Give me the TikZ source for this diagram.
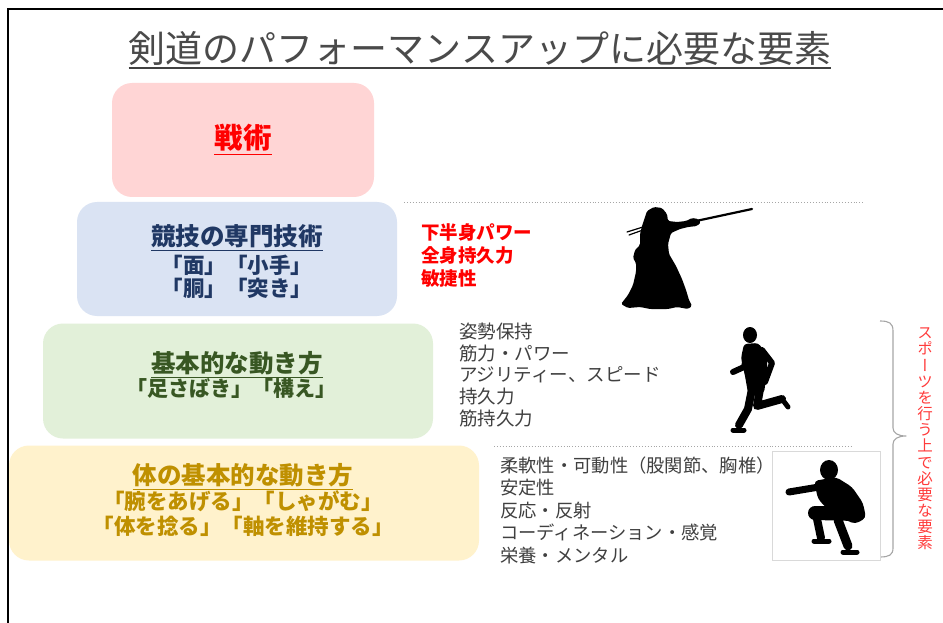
\documentclass[tikz,border=0pt]{standalone}
\usepackage{fontspec}
\setmainfont{Noto Sans CJK JP}
\newfontfamily\vertfont{Noto Sans CJK JP}[RawFeature=+vert]
\begin{document}
\definecolor{pinkfill}{HTML}{FFD5D5}
\definecolor{bluefill}{HTML}{DAE3F3}
\definecolor{greenfill}{HTML}{E2F0D9}
\definecolor{yellowfill}{HTML}{FFF2CC}
\definecolor{navy}{HTML}{203864}
\definecolor{dkgreen}{HTML}{385723}
\definecolor{gold}{HTML}{BF9000}
\definecolor{listgray}{HTML}{404040}
\definecolor{headgray}{HTML}{4A4A4A}
\definecolor{vred}{HTML}{FF3B3B}
\definecolor{dotgray}{HTML}{A6A6A6}
\definecolor{framegray}{HTML}{D9D9D9}
\tikzset{
  tier/.style={rectangle, rounded corners=20pt, inner sep=0pt},
  tiertitle/.style={inner sep=0pt, font=\fontsize{24.5}{28}\selectfont\bfseries},
  tiersub/.style={inner sep=0pt, align=center, font=\fontsize{21.5}{25}\selectfont\bfseries},
  itemlist/.style={inner sep=0pt, anchor=west, align=left, text=listgray},
  guide/.style={dotgray, line width=0.9pt, dotted},
  silhouette/.style={fill=black, line join=round, line cap=round}
}
\begin{tikzpicture}[x=1pt,y=-1pt]
\useasboundingbox (0,0) rectangle (943,623);
\fill[white] (0,0) rectangle (943,623);

% frame on the left and top
\draw[black, line width=2pt] (8,623) -- (8,9) -- (943,9);

% heading
\node[inner sep=0pt, text=headgray, font=\fontsize{37}{42}\selectfont] (head) at (480,48) {剣道のパフォーマンスアップに必要な要素};
\draw[listgray, line width=2pt] ([yshift=-3pt]head.south west) -- ([yshift=-3pt]head.south east);

% tiers of the pyramid
\node[tier, fill=pinkfill, minimum width=262pt, minimum height=114pt] (tactics) at (243,140) {};
\node[tier, fill=bluefill, minimum width=320pt, minimum height=114pt] (skill) at (237,259) {};
\node[tier, fill=greenfill, minimum width=390pt, minimum height=115pt] (move) at (238,381) {};
\node[tier, fill=yellowfill, minimum width=470pt, minimum height=115pt] (body) at (244,503) {};

\node[inner sep=0pt, text=red, font=\fontsize{28.5}{32}\selectfont\bfseries] (t1) at (243,138) {戦術};
\draw[red, line width=1.4pt] ([yshift=-3pt]t1.south west) -- ([yshift=-3pt]t1.south east);

\node[tiertitle, text=navy] (t2) at (237,236) {競技の専門技術};
\draw[navy, line width=1.3pt] ([yshift=-2.5pt]t2.south west) -- ([yshift=-2.5pt]t2.south east);
\node[tiersub, text=navy] (s2a) at (237,265) {「面」「小手」};
\node[tiersub, text=navy] (s2b) at (237,288) {「胴」「突き」};

\node[tiertitle, text=dkgreen] (t3) at (237,363) {基本的な動き方};
\draw[dkgreen, line width=1.3pt] ([yshift=-2.5pt]t3.south west) -- ([yshift=-2.5pt]t3.south east);
\node[tiersub, text=dkgreen, font=\fontsize{21}{25}\selectfont\bfseries] (s3) at (231,389) {「足さばき」「構え」};

\node[tiertitle, text=gold] (t4) at (243,475) {体の基本的な動き方};
\draw[gold, line width=1.3pt] ([yshift=-2.5pt]t4.south west) -- ([yshift=-2.5pt]t4.south east);
\node[tiersub, text=gold] (s4a) at (243,501) {「腕をあげる」「しゃがむ」};
\node[tiersub, text=gold] (s4b) at (243,526) {「体を捻る」「軸を維持する」};

% dotted guide lines
\coordinate (g1a) at (404,202);
\coordinate (g1b) at (865,202);
\coordinate (g2a) at (494,446);
\coordinate (g2b) at (852,446);
\draw[guide] (g1a) -- (g1b);
\draw[guide] (g2a) -- (g2b);

% requirement lists
\node[itemlist, text=red, font=\fontsize{18.5}{22.6}\selectfont\bfseries] (redlist) at (421,255.5)
  {下半身パワー\\全身持久力\\敏捷性};
\node[itemlist, font=\fontsize{18.5}{21.7}\selectfont] (list1) at (459,375)
  {姿勢保持\\筋力・パワー\\アジリティー、スピード\\持久力\\筋持久力};
\node[itemlist, font=\fontsize{18.3}{22.5}\selectfont] (list2) at (500,510)
  {柔軟性・可動性（股関節、胸椎）\\安定性\\反応・反射\\コーディネーション・感覚\\栄養・メンタル};

% brace and vertical caption
\draw[dotgray, line width=1.1pt, line join=round]
  (880,321) .. controls (889,321) and (893,323) .. (893,331) -- (893,428)
  .. controls (893,433) and (898,436) .. (906,436)
  .. controls (898,436) and (893,439) .. (893,444) -- (893,548)
  .. controls (893,555) and (889,557) .. (880,557);
\node[inner sep=0pt, align=center, text=vred, font=\vertfont\fontsize{15.5}{16.15}\selectfont] (caption) at (925,439)
  {ス\\ポ\\ー\\ツ\\を\\行\\う\\上\\で\\必\\要\\な\\要\\素};

% kendo player in a low stance
\fill[silhouette, rounded corners=1.5pt]
  (647,211) -- (654,207) -- (662,208) -- (667,214) -- (668,221) -- (677,222)
  -- (686,221) -- (692,218) -- (698,219) -- (701,222) -- (697,226) -- (688,227)
  -- (680,229) -- (671,233) -- (668,244) -- (669,254) -- (676,266) -- (682,279)
  -- (686,290) -- (689,300) -- (692,306) -- (688,309) -- (677,307) -- (668,309)
  -- (650,309) -- (640,307) -- (628,308) -- (621,304) -- (628,295) -- (633,285)
  -- (636,272) -- (636,263) -- (633,258) -- (635,250) -- (640,245) -- (640,234)
  -- (642,226) -- (645,217) -- cycle;
\draw[black, line width=2.2pt, line cap=round] (696,221) -- (752,209);
\draw[black, line width=1.2pt, line cap=round] (643,227) -- (627,232);
\draw[black, line width=1.2pt, line cap=round] (643,230) -- (629,235);

% runner
\fill[silhouette] (750,335) ellipse [x radius=7, y radius=8];
\fill[silhouette, rounded corners=3pt]
  (744,344) -- (758,343) -- (767,354) -- (767,372) -- (764,393) -- (748,393)
  -- (745,376) -- (741,358) -- cycle;
\draw[black, line width=6pt, line cap=round, line join=round] (762,350) -- (772,363) -- (765,382);
\draw[black, line width=6pt, line cap=round, line join=round] (747,354) -- (744,367) -- (733,372);
\draw[black, line width=8pt, line cap=round, line join=round] (760,389) -- (757,406) -- (782,399);
\draw[black, line width=5pt, line cap=round, line join=round] (782,399) -- (788,407);
\draw[black, line width=8pt, line cap=round, line join=round] (752,389) -- (748,409) -- (739,425);
\draw[black, line width=5pt, line cap=round, line join=round] (733,430) -- (744,430);

% squatting figure in its frame
\node[draw=framegray, line width=0.8pt, fill=white, minimum width=108pt, minimum height=109pt, inner sep=0pt] (photo) at (826,505.5) {};
\fill[silhouette] (829,470) ellipse [x radius=9, y radius=10];
\fill[silhouette, rounded corners=4pt]
  (814,481) -- (836,477) -- (852,487) -- (863,503) -- (866,518) -- (855,524)
  -- (832,514) -- (818,499) -- cycle;
\draw[black, line width=7pt, line cap=round, line join=round] (825,486) -- (789,492);
\draw[black, line width=14pt, line cap=round] (856,514) -- (815,513);
\draw[black, line width=8pt, line cap=round, line join=round] (816,514) -- (821,538);
\draw[black, line width=5pt, line cap=round] (814,541) -- (829,541);
\draw[black, line width=9pt, line cap=round, line join=round] (838,520) -- (848,546);
\draw[black, line width=5pt, line cap=round] (843,552) -- (857,552);
\end{tikzpicture}
\end{document}
